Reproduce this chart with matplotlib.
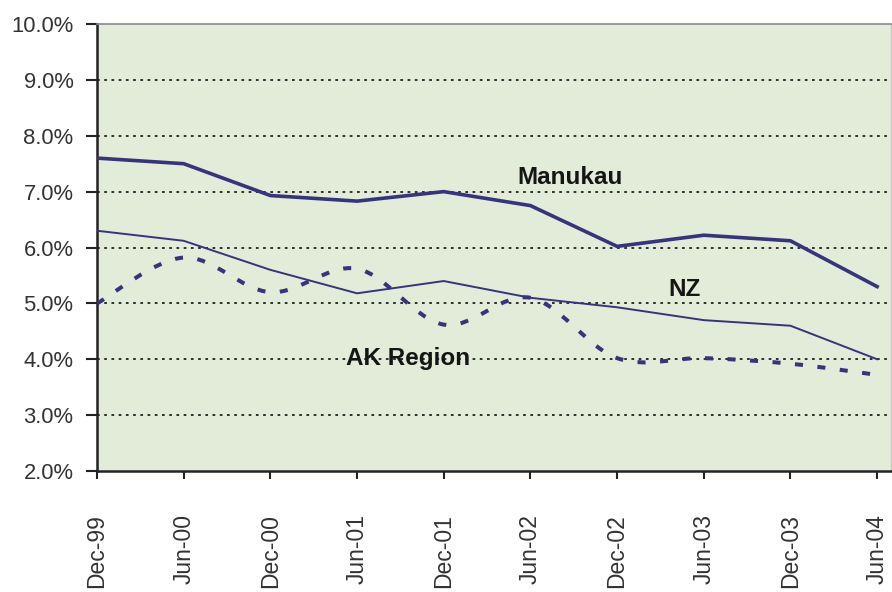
import numpy as np
import matplotlib
matplotlib.use("Agg")
import matplotlib.pyplot as plt
from matplotlib.path import Path
from matplotlib.patches import PathPatch

plt.rcParams['font.family'] = ['Liberation Sans', 'DejaVu Sans']

periods = ['Dec-99', 'Jun-00', 'Dec-00', 'Jun-01', 'Dec-01',
           'Jun-02', 'Dec-02', 'Jun-03', 'Dec-03', 'Jun-04']
manukau = [7.6, 7.5, 6.93, 6.83, 7.0, 6.75, 6.02, 6.22, 6.12, 5.3]
nz = [6.3, 6.12, 5.6, 5.18, 5.4, 5.1, 4.93, 4.7, 4.6, 4.0]
ak_region = [5.0, 5.82, 5.2, 5.62, 4.62, 5.1, 4.02, 4.02, 3.92, 3.72]

line_col = '#35357c'
bg_col = '#e3ecd8'


def smooth_path(xs, ys):
    # Catmull-Rom style bezier through the points (like Excel "smoothed line")
    pts = np.column_stack([xs, ys]).astype(float)
    n = len(pts)
    verts = [pts[0]]
    codes = [Path.MOVETO]
    for i in range(n - 1):
        p0 = pts[i - 1] if i > 0 else pts[i]
        p1 = pts[i]
        p2 = pts[i + 1]
        p3 = pts[i + 2] if i + 2 < n else pts[i + 1]
        c1 = p1 + (p2 - p0) / 6.0
        c2 = p2 - (p3 - p1) / 6.0
        verts += [c1, c2, p2]
        codes += [Path.CURVE4] * 3
    return Path(verts, codes)


fig = plt.figure(figsize=(8.92, 5.92), dpi=100)
ax = fig.add_axes([97 / 892, 121 / 592, 794 / 892, 447 / 592])
ax.set_facecolor(bg_col)

x = np.arange(len(periods))

for yv in range(3, 10):
    ax.axhline(yv, color='#222222', linestyle=(0, (1.5, 2.5)), lw=1.3, zorder=1)

ax.plot(x, manukau, color=line_col, lw=2.6, zorder=3)
ax.plot(x, nz, color=line_col, lw=1.4, zorder=3)
ak = PathPatch(smooth_path(x, ak_region), facecolor='none', edgecolor=line_col,
               lw=2.9, linestyle=(0, (2.0, 3.6)), zorder=3)
ax.add_patch(ak)

ax.text(5.46, 7.26, 'Manukau', fontsize=17.5, fontweight='bold', ha='center', va='center', color='#151515')
ax.text(6.78, 5.24, 'NZ', fontsize=17.5, fontweight='bold', ha='center', va='center', color='#151515')
ax.text(3.59, 4.02, 'AK Region', fontsize=17.5, fontweight='bold', ha='center', va='center', color='#151515')

ax.set_xlim(0, 9.16)
ax.set_ylim(2, 10)
ax.set_xticks(x)
ax.set_xticklabels(periods, rotation=90, fontsize=16.5, color='#333333')
ax.set_yticks(range(2, 11))
ax.set_yticklabels(['%.1f%%' % v for v in range(2, 11)], fontsize=15.8, color='#333333')
ax.tick_params(axis='both', direction='out', width=1.5, color='#222222')
ax.tick_params(axis='x', length=6, pad=25)
ax.tick_params(axis='y', length=8, pad=9)

ax.spines['left'].set_color('#222222')
ax.spines['left'].set_linewidth(1.8)
ax.spines['bottom'].set_color('#222222')
ax.spines['bottom'].set_linewidth(1.8)
ax.spines['top'].set_color('#8a8a8a')
ax.spines['top'].set_linewidth(1.2)
ax.spines['right'].set_color('#c8c8c8')
ax.spines['right'].set_linewidth(1.0)

fig.savefig('out.png', dpi=100)
